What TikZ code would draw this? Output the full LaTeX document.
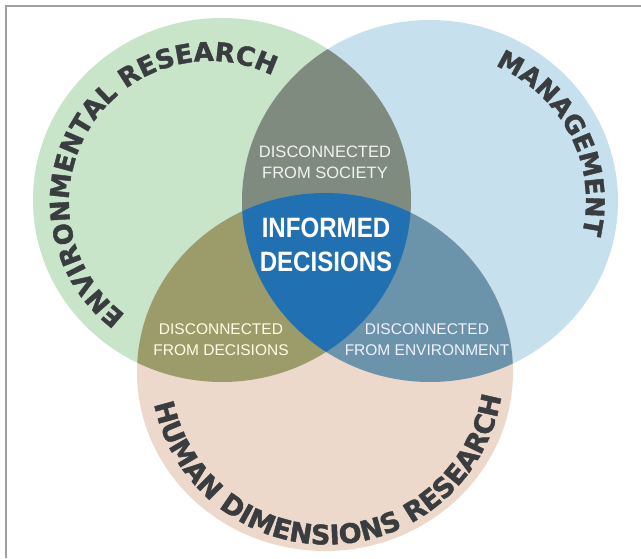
\documentclass[tikz,border=0pt]{standalone}
\usepackage{fontspec}
\setmainfont{Liberation Sans}
\newfontfamily\arcfont[FakeBold=1.6]{DejaVu Sans Bold}
\newfontfamily\narrowfont[FakeStretch=0.86]{Liberation Sans}
\usetikzlibrary{decorations.text}
\definecolor{envgreen}{HTML}{C8E4C9}
\definecolor{mgmtblue}{HTML}{C7E0ED}
\definecolor{humpeach}{HTML}{ECD9CC}
\definecolor{lensgray}{HTML}{7E8B7E}
\definecolor{lensolive}{HTML}{9C9B6A}
\definecolor{lenssteel}{HTML}{6B93AA}
\definecolor{centerblue}{HTML}{2170B2}
\definecolor{arctext}{HTML}{3A3D40}
\definecolor{framegray}{HTML}{A0A0A0}
\tikzset{
  inlabel/.style={align=center, font=\fontsize{16.5}{21}\selectfont, inner sep=0pt},
  smalllabel/.style={align=center, font=\fontsize{15.5}{21}\selectfont, inner sep=0pt},
  biglabel/.style={align=center, font=\narrowfont\bfseries\fontsize{28}{34}\selectfont, inner sep=0pt, text=white},
  arclabel/.style 2 args={decorate, decoration={text along path, text align=center, text color=arctext,
    text={|\arcfont\fontsize{#1}{26}\selectfont|#2}}},
}
\begin{document}
\begin{tikzpicture}[x=1pt,y=1pt]
\useasboundingbox (0,0) rectangle (641,558);
\fill[white] (0,0) rectangle (641,558);
\draw[framegray, line width=1.5pt] (6,0) -- (6,552) -- (641,552);
\coordinate (G) at (222,358);
\coordinate (B) at (430,357);
\coordinate (P) at (325,186);
% circles
\fill[envgreen] (G) ellipse [x radius=189, y radius=182];
\fill[mgmtblue] (B) ellipse [x radius=188, y radius=181];
\fill[humpeach] (P) ellipse [x radius=188, y radius=179];
% pairwise
\begin{scope}
  \clip (G) ellipse [x radius=189, y radius=182];
  \fill[lensgray] (B) ellipse [x radius=188, y radius=181];
  \fill[lensolive] (P) ellipse [x radius=188, y radius=179];
\end{scope}
\begin{scope}
  \clip (B) ellipse [x radius=188, y radius=181];
  \fill[lenssteel] (P) ellipse [x radius=188, y radius=179];
\end{scope}
\begin{scope}
  \clip (G) ellipse [x radius=189, y radius=182];
  \clip (B) ellipse [x radius=188, y radius=181];
  \fill[centerblue] (P) ellipse [x radius=188, y radius=179];
\end{scope}
% curved labels
\coordinate (Gt) at (210,356);
\coordinate (Bt) at (430,357);
\coordinate (Pt) at (327,190);
\path[shift={(Gt)}, arclabel={26}{ENVIRONMENTAL RESEARCH}]
  (248.4:141) arc [start angle=248.4, end angle=48.4, radius=141];
\path[shift={(Bt)}, arclabel={25.5}{MANAGEMENT}]
  (76:156 and 149) arc [start angle=76, end angle=-24, x radius=156, y radius=149];
\path[shift={(Pt)}, arclabel={27}{HUMAN DIMENSIONS RESEARCH}]
  (181.25:176.5) arc [start angle=181.25, end angle=361.25, radius=176.5];
% inner labels
\node[inlabel, text=white!90!gray] (soc) at (325,396) {DISCONNECTED\\FROM SOCIETY};
\node[smalllabel, text=white!90!yellow] (dec) at (221,218) {DISCONNECTED\\FROM DECISIONS};
\node[smalllabel, text=white!95!blue] (env) at (427,218) {DISCONNECTED\\FROM ENVIRONMENT};
\node[biglabel] (inf) at (326,313) {INFORMED\\DECISIONS};
\end{tikzpicture}
\end{document}
